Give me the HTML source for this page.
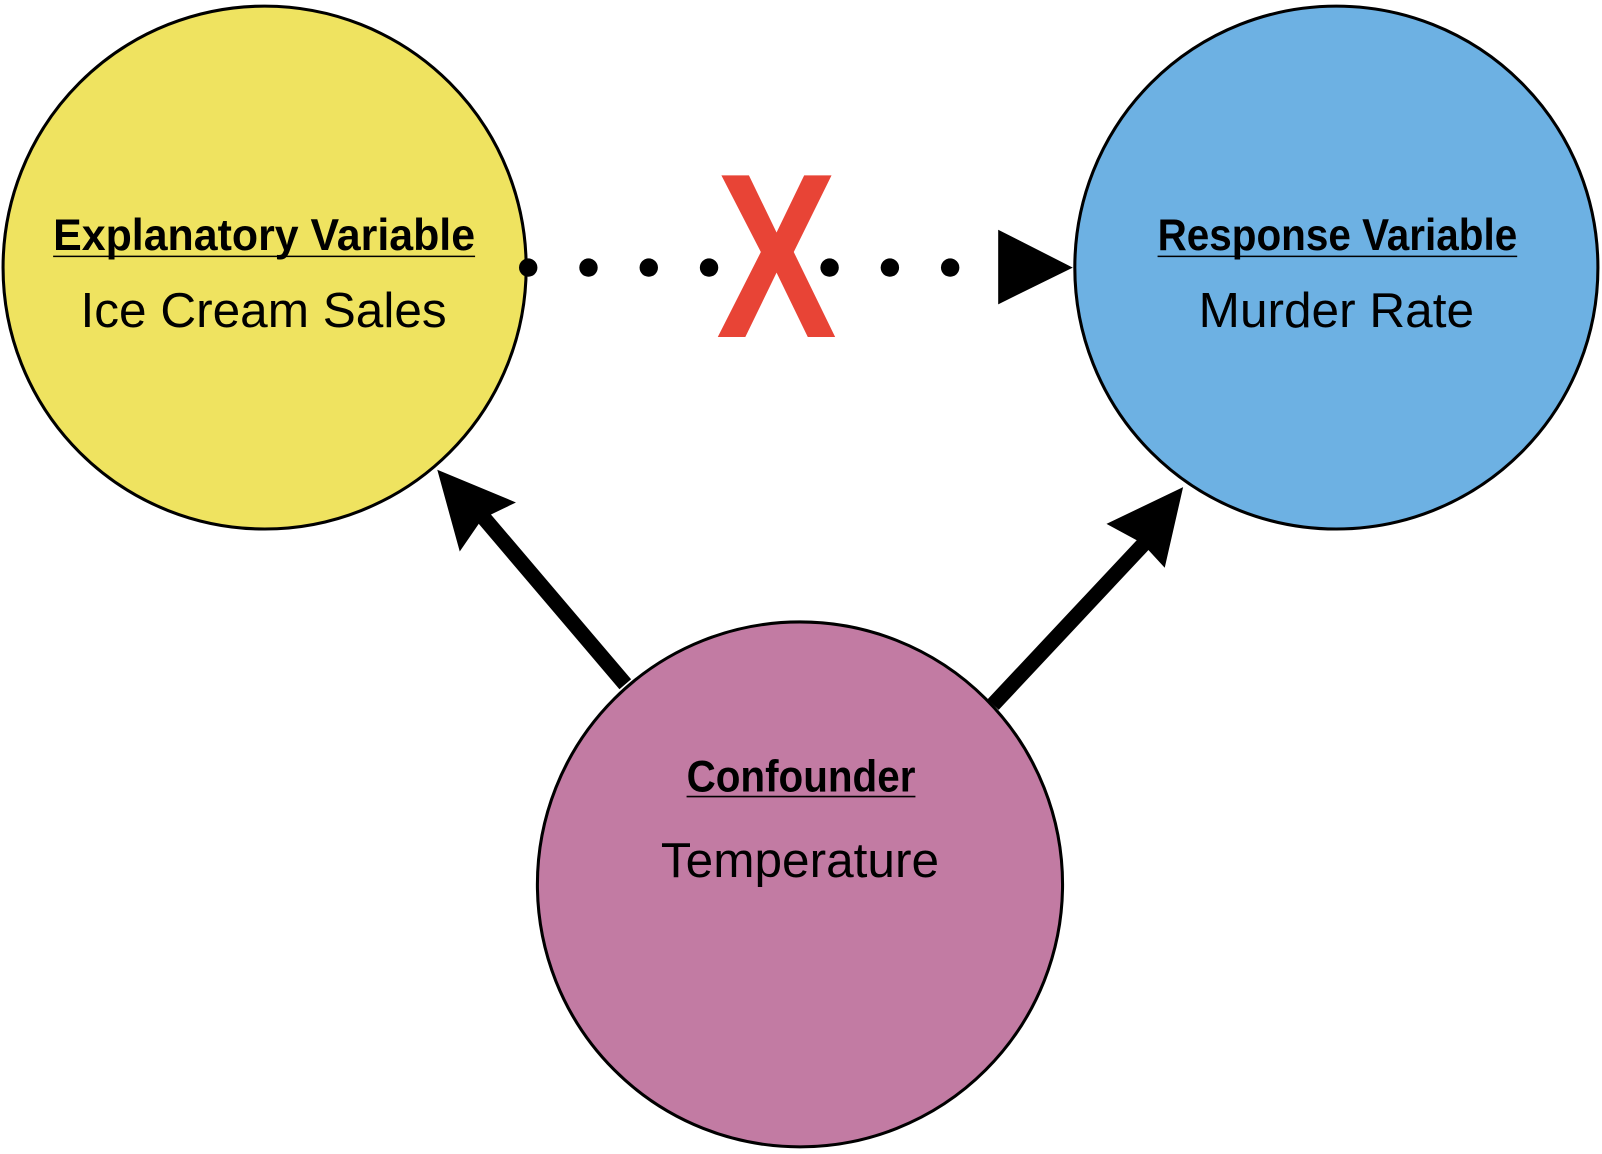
<!DOCTYPE html>
<html><head><meta charset="utf-8"><style>html,body{margin:0;padding:0;background:#fff}svg{display:block}</style></head>
<body>
<svg width="1602" height="1154" viewBox="0 0 1568 1130" preserveAspectRatio="none" xmlns="http://www.w3.org/2000/svg">
<circle cx="259" cy="262" r="256" fill="#efe360" stroke="#000" stroke-width="3"/>
<circle cx="1308" cy="262" r="256" fill="#6db1e3" stroke="#000" stroke-width="3"/>
<circle cx="783" cy="866" r="257" fill="#c27ba3" stroke="#000" stroke-width="3"/>
<g fill="#000">
<circle cx="517" cy="262" r="9"/><circle cx="576" cy="262" r="9"/><circle cx="635" cy="262" r="9"/><circle cx="694" cy="262" r="9"/>
<circle cx="812" cy="262" r="9"/><circle cx="871" cy="262" r="9"/><circle cx="930" cy="262" r="9"/>
<polygon points="977,225 1050,262 977,298"/>
<polygon points="428,460 505,492 472,508 450,540"/>
<polygon points="1158,477 1140,556 1118,532 1083,513"/>
</g>
<line x1="612" y1="670" x2="470" y2="503" stroke="#000" stroke-width="15"/>
<line x1="972" y1="690" x2="1120" y2="532" stroke="#000" stroke-width="15"/>
<text x="760" y="330" text-anchor="middle" font-family="Liberation Sans, sans-serif" font-weight="bold" font-size="230" fill="#e84436" textLength="118" lengthAdjust="spacingAndGlyphs">X</text>
<g font-family="Liberation Sans Narrow, Liberation Sans, sans-serif" font-weight="bold" font-size="44" fill="#000">
<text x="52" y="245" textLength="413" lengthAdjust="spacingAndGlyphs">Explanatory Variable</text>
<text x="1133" y="245" textLength="352" lengthAdjust="spacingAndGlyphs">Response Variable</text>
<text x="672" y="775" textLength="224" lengthAdjust="spacingAndGlyphs">Confounder</text>
</g>
<g stroke="#000" stroke-width="1.5">
<line x1="52" y1="251" x2="465" y2="251"/>
<line x1="1133" y1="251" x2="1485" y2="251"/>
<line x1="672" y1="780" x2="896" y2="780"/>
</g>
<g font-family="Liberation Sans, sans-serif" font-size="48.5" fill="#000" text-anchor="middle">
<text x="258" y="320">Ice Cream Sales</text>
<text x="1308" y="320">Murder Rate</text>
<text x="783" y="859">Temperature</text>
</g>
</svg>
</body></html>
